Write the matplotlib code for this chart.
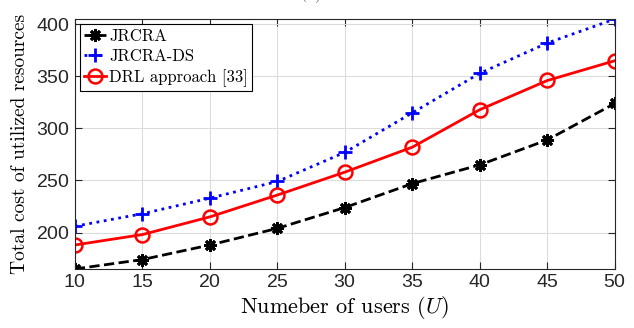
import numpy as np
import matplotlib
matplotlib.use("Agg")
import matplotlib.pyplot as plt

# ---------------- DATOS ----------------
users = [10, 15, 20, 25, 30, 35, 40, 45, 50]
jrcra = [165, 174, 188, 204, 224, 247, 265, 289, 324]
jrcra_ds = [206, 218, 233, 249, 277, 315, 353, 382, 405]
drl = [188, 198, 215, 236, 258, 282, 318, 346, 365]

plt.rcParams['mathtext.fontset'] = 'cm'
plt.rcParams['axes.formatter.use_mathtext'] = True

fig = plt.figure(figsize=(6.34, 3.28), dpi=100)
ax = fig.add_axes([0.118, 0.180, 0.852, 0.762])

ax.plot(users, jrcra, '--', color='k', lw=2, marker=(8, 2, 0), ms=9, mew=2,
        label='JRCRA')
ax.plot(users, jrcra_ds, ':', color='b', lw=2, marker='+', ms=10, mew=2,
        label='JRCRA-DS')
ax.plot(users, drl, '-', color='r', lw=2, marker='o', ms=10, mew=1.8,
        mfc='none', label='DRL approach [33]')

ax.set_xlim(10, 50)
ax.set_ylim(min(jrcra), max(jrcra_ds))
ax.set_xticks(users)
ax.set_yticks([200, 250, 300, 350, 400])

ax.grid(True, color='#dcdcdc', lw=0.8)
ax.set_axisbelow(True)
for s in ax.spines.values():
    s.set_color('#262626')
    s.set_linewidth(0.8)
ax.tick_params(direction='in', length=5, width=0.8, colors='#262626',
               labelsize=14, top=True, right=True)
for lab in ax.get_xticklabels() + ax.get_yticklabels():
    lab.set_fontfamily('Liberation Sans')

ax.set_xlabel('Numeber of users ($U$)', fontfamily='cmr10', fontsize=16,
              labelpad=2)
ax.set_ylabel('Total cost of utilized resources', fontfamily='cmr10',
              fontsize=14, labelpad=5)

leg = ax.legend(loc='upper left', prop={'family': 'cmr10', 'size': 12},
                handlelength=1.3, handletextpad=0.2, borderpad=0.25,
                labelspacing=0.3, borderaxespad=0.3, fancybox=False,
                framealpha=1)
leg.get_frame().set_edgecolor('k')
leg.get_frame().set_linewidth(0.8)

fig.text(0.49, 1.02, '(a)', fontfamily='cmr10', fontsize=13, ha='center',
         va='center', color='#666666')

fig.savefig('out.png', dpi=100)
